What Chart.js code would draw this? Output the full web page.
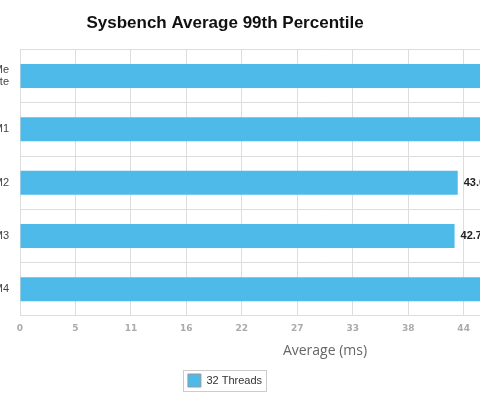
<!DOCTYPE html>
<html>
<head>
<meta charset="utf-8">
<title>Sysbench Average 99th Percentile</title>
<script src="https://cdn.jsdelivr.net/npm/chart.js@4.4.1/dist/chart.umd.min.js"></script>
<style>
  html, body { margin: 0; padding: 0; background: #fff; overflow: hidden; }
  body { width: 480px; height: 398px; position: relative; }
  /* the plot is wider than the window, left labels and right end get clipped */
  #wrap { position: absolute; left: -180px; top: 0; width: 810px; height: 398px; }
</style>
</head>
<body>
<div id="wrap"><canvas id="chart" width="810" height="398"></canvas></div>
<script>
const categories = [["NVMe", "Private"], "VM1", "VM2", "VM3", "VM4"];
const threads32 = [55.4, 52.1, 43.02, 42.71, 50.3];
const xTicks = [0, 5.45, 10.9, 16.35, 21.8, 27.25, 32.7, 38.15, 43.6, 49.05, 54.5];
const xMax = 59.95;

const barColor = "#4dbaea";
const gridColor = "#dddddd";

// numero al final de cada barra
const valueLabels = {
  id: "valueLabels",
  afterDatasetsDraw(chart) {
    const ctx = chart.ctx;
    const meta = chart.getDatasetMeta(0);
    ctx.save();
    ctx.font = "bold 11px Arial, 'Liberation Sans'";
    ctx.fillStyle = "#222";
    ctx.textBaseline = "middle";
    meta.data.forEach((bar, i) => {
      ctx.fillText(threads32[i].toFixed(2), bar.x + 6, bar.y);
    });
    ctx.restore();
  }
};

// marco gris alrededor de la leyenda
const legendFrame = {
  id: "legendFrame",
  afterDraw(chart) {
    const boxes = chart.legend && chart.legend.legendHitBoxes;
    if (!boxes || !boxes.length) return;
    const hb = boxes[0];
    const ctx = chart.ctx;
    ctx.save();
    ctx.strokeStyle = "#cccccc";
    ctx.lineWidth = 1;
    ctx.strokeRect(Math.round(hb.left - 5) + 0.5, Math.round(hb.top - 4) + 0.5, Math.round(hb.width + 9), 21);
    ctx.restore();
  }
};

new Chart(document.getElementById("chart"), {
  type: "bar",
  data: {
    labels: categories,
    datasets: [
      {
        label: "32 Threads",
        data: threads32,
        backgroundColor: barColor,
        borderWidth: 0,
        barPercentage: 0.45,
        categoryPercentage: 1
      }
    ]
  },
  options: {
    indexAxis: "y",
    responsive: false,
    animation: false,
    devicePixelRatio: 1,
    layout: { padding: { top: 0, right: 0, bottom: 1, left: 0 } },
    plugins: {
      title: {
        display: true,
        text: "Sysbench Average 99th Percentile",
        color: "#111",
        font: { family: "Arial, 'Liberation Sans'", size: 17, weight: "bold" },
        padding: { top: 13, bottom: 16 }
      },
      legend: {
        position: "bottom",
        labels: {
          color: "#333",
          font: { family: "Arial, 'Liberation Sans'", size: 11 },
          boxWidth: 13,
          boxHeight: 13,
          padding: 10,
          generateLabels(chart) {
            const items = Chart.defaults.plugins.legend.labels.generateLabels(chart);
            items.forEach(it => { it.strokeStyle = "#999"; it.lineWidth = 1; });
            return items;
          }
        }
      },
      tooltip: { enabled: false }
    },
    scales: {
      x: {
        min: 0,
        max: xMax,
        afterBuildTicks(scale) {
          scale.ticks = xTicks.map(v => ({ value: v }));
        },
        ticks: {
          color: "#aaaaaa",
          font: { family: "'DejaVu Sans'", size: 9, weight: "bold" },
          padding: 7,
          callback: v => Math.round(v)
        },
        grid: { color: gridColor, drawTicks: false },
        border: { color: gridColor },
        title: {
          display: true,
          text: "Average (ms)",
          color: "#666",
          font: { family: "'Open Sans'", size: 14 },
          padding: { top: 1.5, bottom: 5 }
        }
      },
      y: {
        afterFit(scale) {
          scale.width = 200;
        },
        ticks: {
          color: "#444",
          font: { family: "Arial, 'Liberation Sans'", size: 11, lineHeight: 1.1 },
          padding: 11
        },
        grid: { color: gridColor, drawTicks: false },
        border: { color: gridColor }
      }
    }
  },
  plugins: [valueLabels, legendFrame]
});
</script>
</body>
</html>
